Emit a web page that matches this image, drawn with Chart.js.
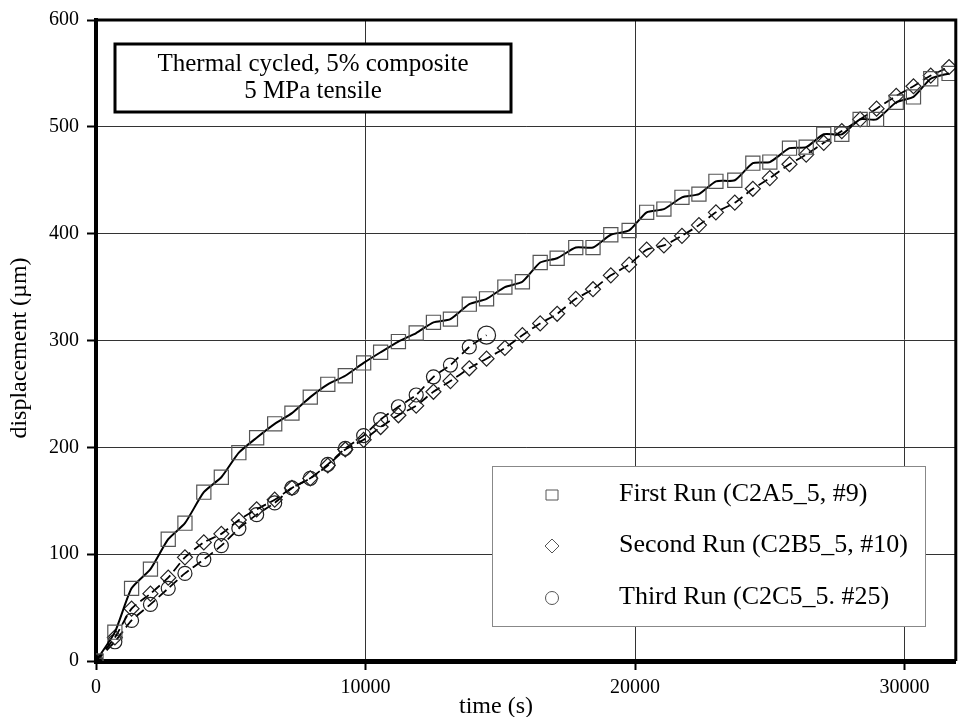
<!DOCTYPE html>
<html>
<head>
<meta charset="utf-8">
<script src="https://cdn.jsdelivr.net/npm/chart.js@4.4.0/dist/chart.umd.min.js"></script>
<style>
	body { margin: 0; background: #fff; }
	#wrap { width: 967px; height: 717px; }
</style>
</head>
<body>
<div id="wrap"><canvas id="mychart" width="967" height="717"></canvas></div>
<script>
// sample times (s), shared by all three runs
var timeS = [0, 700, 1320, 2020, 2680, 3300, 4000, 4650, 5300, 5960, 6630, 7270, 7950, 8600, 9250, 9930,
	10560, 11220, 11880, 12520, 13150, 13850, 14490, 15170, 15820, 16480, 17110, 17800, 18440, 19100, 19780,
	20430, 21070, 21740, 22370, 23000, 23700, 24370, 25000, 25730, 26350, 27000, 27670, 28350, 28960, 29690,
	30330, 30970, 31650];
// displacement (um)
var firstRun = [0, 27, 68, 86, 114, 129, 158, 172, 195, 209, 222, 232, 247, 259, 267, 279,
	289, 299, 307, 317, 320, 334, 339, 350, 355, 373, 377, 387, 387, 399, 403,
	420, 423, 434, 437, 449, 450, 466, 467, 480, 481, 493, 493, 507, 507, 523,
	528, 545, 550];
var secondRun = [0, 22, 49, 63, 78, 97, 111, 119, 132, 142, 151, 162, 171, 183, 198, 207,
	219, 230, 239, 252, 262, 274, 283, 293, 305, 316, 325, 339, 348, 361, 371,
	385, 389, 398, 408, 420, 429, 442, 452, 465, 474, 485, 496, 507, 517, 529,
	538, 548, 556];
var thirdRun = [0, 18, 38, 53, 68, 82, 95, 108, 124, 137, 148, 162, 171, 184, 199, 211,
	226, 238, 249, 266, 277, 294, 305];

var seriesNames = ['First Run (C2A5_5, #9)', 'Second Run (C2B5_5, #10)', 'Third Run (C2C5_5. #25)'];
var noteLines = ['Thermal cycled, 5% composite', '5 MPa tensile'];
var xTicks = [0, 10000, 20000, 30000];
var xTitle = 'time (s)';
var yTitle = 'displacement (\u00b5m)';

var serif = '"Liberation Serif", "Times New Roman", serif';

function toPoints(vals) {
	var pts = [];
	for (var i = 0; i < vals.length; i++) {
		pts.push({ x: timeS[i], y: vals[i] });
	}
	return pts;
}

function drawMarker(ctx, kind, x, y) {
	ctx.beginPath();
	if (kind === 0) {
		ctx.rect(x - 6, y - 5, 12, 10);
	} else if (kind === 1) {
		ctx.moveTo(x - 7, y); ctx.lineTo(x, y - 7); ctx.lineTo(x + 7, y); ctx.lineTo(x, y + 7); ctx.closePath();
	} else {
		ctx.arc(x, y, 6.5, 0, Math.PI * 2);
	}
	ctx.stroke();
}

var decorPlugin = {
	id: 'decor',
	afterDraw: function (chart) {
		var ctx = chart.ctx;
		var a = chart.chartArea;
		ctx.save();

		// top and right frame
		ctx.strokeStyle = '#000';
		ctx.lineWidth = 3;
		ctx.beginPath();
		ctx.moveTo(a.left, a.top);
		ctx.lineTo(a.right, a.top);
		ctx.lineTo(a.right, a.bottom);
		ctx.stroke();

		// note box
		ctx.fillStyle = '#fff';
		ctx.fillRect(115, 44, 396, 68);
		ctx.lineWidth = 3;
		ctx.strokeRect(115, 44, 396, 68);
		ctx.fillStyle = '#000';
		ctx.font = '25px ' + serif;
		ctx.textAlign = 'center';
		ctx.textBaseline = 'alphabetic';
		ctx.fillText(noteLines[0], 313, 71);
		ctx.fillText(noteLines[1], 313, 98);

		// legend box
		ctx.fillStyle = '#fff';
		ctx.fillRect(492, 466, 433, 160);
		ctx.strokeStyle = '#888';
		ctx.lineWidth = 1;
		ctx.strokeRect(492.5, 466.5, 433, 160);
		var rows = [494, 545, 597];
		ctx.font = '26px ' + serif;
		ctx.textAlign = 'left';
		ctx.textBaseline = 'middle';
		for (var i = 0; i < seriesNames.length; i++) {
			ctx.strokeStyle = '#555';
			ctx.lineWidth = 1;
			drawMarker(ctx, i, 552, rows[i] + 1);
			ctx.fillStyle = '#000';
			ctx.fillText(seriesNames[i], 619, rows[i]);
		}

		// axis titles
		ctx.font = '24px ' + serif;
		ctx.textAlign = 'center';
		ctx.fillText(xTitle, 496, 707);
		ctx.translate(20, 348);
		ctx.rotate(-Math.PI / 2);
		ctx.fillText(yTitle, 0, 0);
		ctx.restore();
	}
};

var ctx = document.getElementById('mychart').getContext('2d');
var myChart = new Chart(ctx, {
	type: 'scatter',
	data: {
		datasets: [{
			label: seriesNames[0],
			data: toPoints(firstRun),
			showLine: true,
			borderColor: '#000',
			borderWidth: 2,
			tension: 0.2,
			pointStyle: 'rect',
			pointRadius: 10,
			pointBorderColor: '#555',
			pointBorderWidth: 1.2,
			pointBackgroundColor: 'rgba(0,0,0,0)'
		}, {
			label: seriesNames[1],
			data: toPoints(secondRun),
			showLine: true,
			borderColor: '#000',
			borderWidth: 1.8,
			borderDash: [10, 5],
			tension: 0.2,
			pointStyle: 'rectRot',
			pointRadius: 7.5,
			pointBorderColor: '#222',
			pointBorderWidth: 1.2,
			pointBackgroundColor: 'rgba(0,0,0,0)'
		}, {
			label: seriesNames[2],
			data: toPoints(thirdRun),
			showLine: true,
			borderColor: '#000',
			borderWidth: 1.8,
			borderDash: [10, 5],
			tension: 0.2,
			pointStyle: 'circle',
			pointRadius: function (c) { return c.dataIndex === thirdRun.length - 1 ? 9 : 7; },
			pointBorderColor: '#222',
			pointBorderWidth: 1.2,
			pointBackgroundColor: 'rgba(0,0,0,0)'
		}]
	},
	options: {
		responsive: false,
		animation: false,
		layout: { padding: { top: 20, right: 10, left: 0, bottom: 0 } },
		plugins: {
			legend: { display: false },
			tooltip: { enabled: false }
		},
		scales: {
			x: {
				type: 'linear',
				min: 0,
				max: 31900,
				afterFit: function (s) { s.height = 56; },
				afterBuildTicks: function (s) {
					s.ticks = xTicks.map(function (v) { return { value: v }; });
				},
				ticks: {
					color: '#000',
					font: { family: serif, size: 20 },
					padding: 6,
					maxRotation: 0,
					callback: function (v) { return String(v); }
				},
				grid: {
					color: '#333',
					lineWidth: 1,
					tickColor: '#000',
					tickWidth: 2,
					tickLength: 9
				},
				border: { display: true, color: '#000', width: 5 }
			},
			y: {
				min: 0,
				max: 600,
				afterFit: function (s) { s.width = 96; },
				ticks: {
					stepSize: 100,
					color: '#000',
					font: { family: serif, size: 20 },
					padding: 8
				},
				grid: {
					color: '#333',
					lineWidth: 1,
					tickColor: '#000',
					tickWidth: 2,
					tickLength: 9
				},
				border: { display: true, color: '#000', width: 4 }
			}
		}
	},
	plugins: [decorPlugin]
});
</script>
</body>
</html>
